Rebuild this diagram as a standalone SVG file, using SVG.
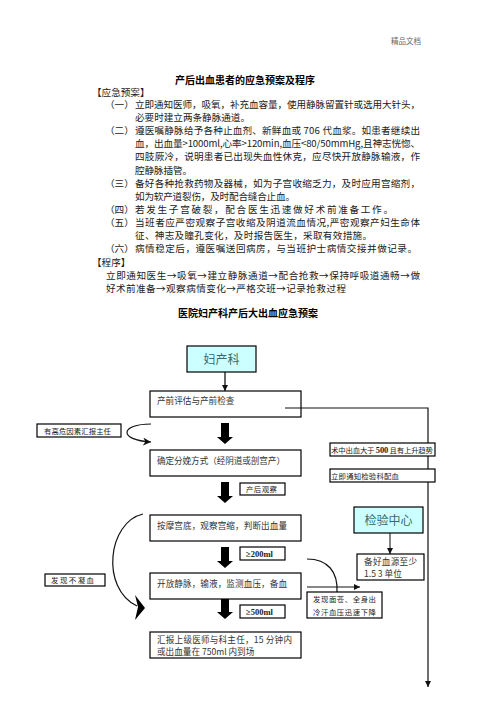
<svg xmlns="http://www.w3.org/2000/svg" width="496" height="702" viewBox="0 0 496 702">
<style>
text{font-family:"Noto Sans CJK SC","Noto Sans",sans-serif;}
.b{font-size:9.6px;fill:#1a1a1a}
.h{font-size:10px;font-weight:bold;fill:#000}
.hd{font-size:7.5px;fill:#666}
.bx{fill:#fff;stroke:#000;stroke-width:1.2}
.bn{fill:none;stroke:#000;stroke-width:1.2}
.cy{fill:#ccffff;stroke:#000;stroke-width:1.2}
.s{font-size:8.6px;fill:#333}
.xs{font-size:7.4px;fill:#222}
.big{font-size:12px;fill:#3a6a70}
.num{font-family:"Liberation Serif",serif;font-size:8.5px;font-weight:bold;fill:#222}
.ln{fill:none;stroke:#111;stroke-width:1.2}
.blk{fill:#000}
</style>
<defs>
<marker id="ah" viewBox="0 0 10 10" refX="10" refY="5" markerWidth="6" markerHeight="6" markerUnits="userSpaceOnUse" orient="auto"><path d="M0,0 L10,5 L0,10 z" fill="#111"/></marker>
<marker id="ah2" viewBox="0 0 10 10" refX="10" refY="5" markerWidth="8" markerHeight="8" markerUnits="userSpaceOnUse" orient="auto"><path d="M0,0 L10,5 L0,10 L3,5 z" fill="#111"/></marker>
</defs>
<rect width="496" height="702" fill="#fff"/>
<text class="hd" x="391" y="44">精品文档</text>
<g id="text-block">
<text class="h" x="175" y="84" textLength="140">产后出血患者的应急预案及程序</text>
<text class="b" x="92" y="95.5">【应急预案】</text>
<text class="b" x="105" y="108">（一）<tspan x="135" textLength="285">立即通知医师，吸氧，补充血容量，使用静脉留置针或选用大针头，</tspan></text>
<text class="b" x="135" y="121" textLength="115">必要时建立两条静脉通道。</text>
<text class="b" x="105" y="134">（二）<tspan x="135" textLength="285">遵医嘱静脉给予各种止血剂、新鲜血或 706 代血浆。如患者继续出</tspan></text>
<text class="b" x="135" y="147" textLength="285">血，出血量&gt;1000ml,心率&gt;120min,血压&lt;80/50mmHg,且神志恍惚、</text>
<text class="b" x="135" y="160" textLength="285">四肢厥冷，说明患者已出现失血性休克，应尽快开放静脉输液，作</text>
<text class="b" x="135" y="174" textLength="57">腔静脉插管。</text>
<text class="b" x="105" y="187">（三）<tspan x="135" textLength="285">备好各种抢救药物及器械，如为子宫收缩乏力，及时应用宫缩剂，</tspan></text>
<text class="b" x="135" y="200" textLength="160">如为软产道裂伤，及时配合缝合止血。</text>
<text class="b" x="105" y="213">（四）<tspan x="135" textLength="258">若发生子宫破裂，配合医生迅速做好术前准备工作。</tspan></text>
<text class="b" x="105" y="226">（五）<tspan x="135" textLength="285">当班者应严密观察子宫收缩及阴道流血情况,严密观察产妇生命体</tspan></text>
<text class="b" x="135" y="239" textLength="237">征、神志及瞳孔变化，及时报告医生，采取有效措施。</text>
<text class="b" x="105" y="252">（六）<tspan x="135" textLength="282">病情稳定后，遵医嘱送回病房，与当班护士病情交接并做记录。</tspan></text>
<text class="b" x="92" y="266">【程序】</text>
<text class="b" x="106" y="279" textLength="314">立即通知医生→吸氧→建立静脉通道→配合抢救→保持呼吸道通畅→做</text>
<text class="b" x="106" y="292" textLength="240">好术前准备→观察病情变化→严格交班→记录抢救过程</text>
<text class="h" x="178" y="317" textLength="140">医院妇产科产后大出血应急预案</text>
</g>
<g id="connectors">
<path d="M225,372 L225,391" stroke="#666" stroke-width="2" fill="none" marker-end="url(#ah)"/>
<path class="ln" d="M285,408 L428,408 L428,687" stroke-width="1.4" marker-end="url(#ah)"/>
<path d="M390,533 L390,554" stroke="#777" stroke-width="1.8" fill="none" marker-end="url(#ah)"/>
<path class="ln" d="M307,587 L360,587" marker-end="url(#ah)"/>
<path class="ln" d="M307,559 C328,559 338,572 337,592"/>
<path class="ln" d="M151,424 C120,424 118,440 151,442" stroke-width="1.4" marker-end="url(#ah2)"/>
<path class="ln" d="M143,514 C108,522 100,588 137,606" stroke-width="1.8"/>
<polygon class="blk" points="135,595 145,608 135,620 138,607"/>
<polygon class="blk" points="221,423 229,423 229,437 233,437 225,444 217,437 221,437"/>
<polygon class="blk" points="221,482 229,482 229,496 233,496 225,503 217,496 221,496"/>
<polygon class="blk" points="221,547 229,547 229,561 233,561 225,568 217,561 221,561"/>
<polygon class="blk" points="221,598 229,598 229,612 233,612 225,619 217,612 221,612"/>
</g>
<g id="n-fuchanke">
<rect class="cy" x="187" y="346" width="69" height="26"/>
<text class="big" x="221.5" y="363.5" text-anchor="middle">妇产科</text>
</g>
<g id="n-chanqian">
<rect class="bn" x="150" y="391" width="151" height="26"/>
<text class="s" x="157" y="404">产前评估与产前检查</text>
</g>
<g id="n-gaowei">
<rect class="bx" x="37" y="424" width="84" height="13"/>
<text class="xs" x="44" y="433.5" font-size="7.8" textLength="67">有高危因素汇报主任</text>
</g>
<g id="n-queding">
<rect class="bx" x="150" y="450" width="151" height="26"/>
<text class="s" x="157" y="464" textLength="128">确定分娩方式（经阴道或剖宫产）</text>
</g>
<g id="n-shuzhong">
<rect class="bx" x="330" y="443" width="105" height="13"/>
<text class="xs" x="331" y="452.5" textLength="102">术中出血大于 <tspan class="num" font-size="7.5">500</tspan> 且有上升趋势</text>
</g>
<g id="n-tongzhi">
<rect class="bx" x="330" y="469" width="105" height="13"/>
<text class="xs" x="331" y="478.5" textLength="68">立即通知检验科配血</text>
</g>
<g id="n-chanhou">
<rect class="bx" x="240" y="483" width="45" height="12"/>
<text class="xs" x="246" y="492" textLength="31">产后观察</text>
</g>
<g id="n-jianyan">
<rect class="cy" x="354" y="507" width="69" height="26"/>
<text class="big" x="388.5" y="524.5" text-anchor="middle">检验中心</text>
</g>
<g id="n-anmo">
<rect class="bx" x="150" y="515" width="151" height="26"/>
<text class="s" x="157" y="529" textLength="130">按摩宫底，观察宫缩，判断出血量</text>
</g>
<g id="n-200">
<rect class="bx" x="240" y="547" width="45" height="13"/>
<text class="num" x="246" y="556.5">≥200ml</text>
</g>
<g id="n-beihao">
<rect class="bx" x="357" y="554" width="67" height="26"/>
<text class="s" x="364" y="564.5" textLength="53">备好血源至少</text>
<text class="s" x="364" y="577">1.5 3 单位</text>
</g>
<g id="n-buning">
<rect class="bx" x="45" y="574" width="60" height="12"/>
<text class="xs" x="51" y="583" font-size="8.4" textLength="43">发现不凝血</text>
</g>
<g id="n-kaifang">
<rect class="bx" x="150" y="573" width="151" height="26"/>
<text class="s" x="157" y="586.5" textLength="130">开放静脉，输液，监测血压，备血</text>
</g>
<g id="n-miancang">
<rect class="bx" x="307" y="592" width="75" height="26"/>
<text class="xs" x="313" y="602" textLength="63">发现面苍、全身出</text>
<text class="xs" x="313" y="615" textLength="63">冷汗血压迅速下降</text>
</g>
<g id="n-500">
<rect class="bx" x="240" y="605" width="45" height="13"/>
<text class="num" x="246" y="614.5">≥500ml</text>
</g>
<g id="n-huibao">
<rect class="bx" x="150" y="632" width="151" height="26"/>
<text class="s" x="157" y="642.5" textLength="135">汇报上级医师与科主任，15 分钟内</text>
<text class="s" x="157" y="655">或出血量在 750ml 内到场</text>
</g>
</svg>
